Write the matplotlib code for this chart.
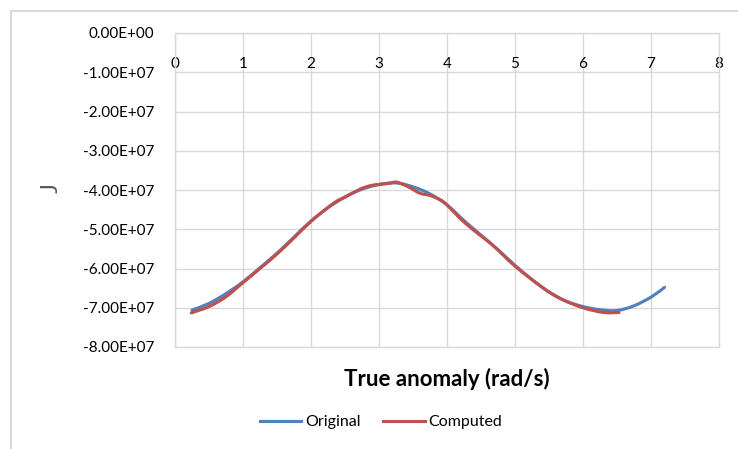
import matplotlib
matplotlib.use("Agg")
import matplotlib.pyplot as plt
from matplotlib.patches import Rectangle, PathPatch
from matplotlib.path import Path
from matplotlib.lines import Line2D
import numpy as np

plt.rcParams['font.family'] = ['Lato', 'DejaVu Sans']

# True anomaly values and J values (in units of 1e7)
orig_x = [0.25, 0.5, 0.75, 1.0, 1.25, 1.5, 1.75, 2.0, 2.25, 2.5, 2.75, 3.0, 3.25,
          3.5, 3.75, 4.0, 4.25, 4.5, 4.75, 5.0, 5.25, 5.5, 5.75, 6.0, 6.25, 6.5,
          6.75, 7.0, 7.2]
orig_y = [-7.06, -6.89, -6.64, -6.34, -5.98, -5.61, -5.20, -4.79, -4.45, -4.18,
          -3.98, -3.86, -3.82, -3.92, -4.10, -4.38, -4.78, -5.15, -5.52, -5.92,
          -6.28, -6.60, -6.83, -6.97, -7.05, -7.07, -6.95, -6.73, -6.48]

comp_x = [0.24, 0.5, 0.75, 1.0, 1.25, 1.5, 1.75, 2.0, 2.33, 2.5, 2.72, 2.87, 3.0,
          3.15, 3.26, 3.41, 3.6, 3.75, 3.9, 4.0, 4.19, 4.39, 4.68, 5.0, 5.37,
          5.66, 6.0, 6.3, 6.53]
comp_y = [-7.13, -6.97, -6.72, -6.36, -6.00, -5.63, -5.22, -4.80, -4.34, -4.18,
          -3.98, -3.89, -3.86, -3.83, -3.80, -3.90, -4.08, -4.14, -4.25, -4.38,
          -4.72, -5.02, -5.42, -5.94, -6.44, -6.76, -7.00, -7.12, -7.12]

series_names = ["Original", "Computed"]
series_colors = ["#4F81BD", "#C0504D"]

x_ticks = [0, 1, 2, 3, 4, 5, 6, 7, 8]
y_ticks = [0, -1, -2, -3, -4, -5, -6, -7, -8]
y_tick_labels = ["0.00E+00", "-1.00E+07", "-2.00E+07", "-3.00E+07", "-4.00E+07",
                 "-5.00E+07", "-6.00E+07", "-7.00E+07", "-8.00E+07"]


def smooth_path(xs, ys):
    """Smoothed line (like a spreadsheet 'smoothed line') as cubic Bezier path."""
    p = np.column_stack([xs, ys]).astype(float)
    n = len(p)
    verts = [p[0]]
    codes = [Path.MOVETO]
    for i in range(n - 1):
        p0 = p[i - 1] if i > 0 else p[i]
        p1 = p[i]
        p2 = p[i + 1]
        p3 = p[i + 2] if i + 2 < n else p[i + 1]
        c1 = p1 + (p2 - p0) / 6.0
        c2 = p2 - (p3 - p1) / 6.0
        verts += [c1, c2, p2]
        codes += [Path.CURVE4] * 3
    return Path(np.array(verts), codes)


W, H = 738, 449
fig = plt.figure(figsize=(W / 100, H / 100), dpi=100)

# chart frame
fig.patches.append(Rectangle((11 / W, -0.1), 1.2, 1 - 11 / H + 0.1,
                             transform=fig.transFigure, fill=False,
                             edgecolor="#D9D9D9", linewidth=1.5))

ax = fig.add_axes([175 / W, 1 - 347 / H, 544 / W, 314 / H])

grid_c = "#D9D9D9"
text_c = "#000000"

handles = []
for xs, ys, name, col in [(orig_x, orig_y, series_names[0], series_colors[0]),
                          (comp_x, comp_y, series_names[1], series_colors[1])]:
    path = smooth_path(xs, np.array(ys) * 1e7)
    ax.add_patch(PathPatch(path, transform=ax.transData, facecolor='none',
                           edgecolor=col, lw=2.25, capstyle='round', zorder=3))
    handles.append(Line2D([], [], color=col, lw=2.25, label=name))

ax.set_xlim(0, 8)
ax.set_ylim(-8e7, 0)
ax.set_xticks(x_ticks)
ax.set_yticks([v * 1e7 for v in y_ticks])
ax.set_yticklabels(y_tick_labels)
ax.grid(True, color=grid_c, lw=1)
ax.set_axisbelow(True)
for s in ax.spines.values():
    s.set_color(grid_c)
    s.set_linewidth(1)

ax.xaxis.tick_top()
ax.tick_params(axis='x', length=0, pad=-17, labelsize=11, labelcolor=text_c)
ax.tick_params(axis='y', length=0, pad=15, labelsize=11, labelcolor=text_c)
for lab in ax.get_xticklabels():
    lab.set_va('top')

ax.set_xlabel("True anomaly (rad/s)", fontsize=16, fontweight='bold', va='center')
ax.xaxis.set_label_position('bottom')
ax.xaxis.set_label_coords(0.5, -0.067)
ax.set_ylabel("J", fontsize=17, va='center', ha='center', rotation=90, color="#595959")
ax.yaxis.set_label_coords(-0.228, 0.505)

fig.legend(handles=handles, loc='center', bbox_to_anchor=(381 / W, 1 - 422 / H),
           ncol=2, frameon=False, fontsize=11.5, handlelength=2.6, handletextpad=0.25,
           columnspacing=1.4)

fig.savefig("out.png", dpi=100)
